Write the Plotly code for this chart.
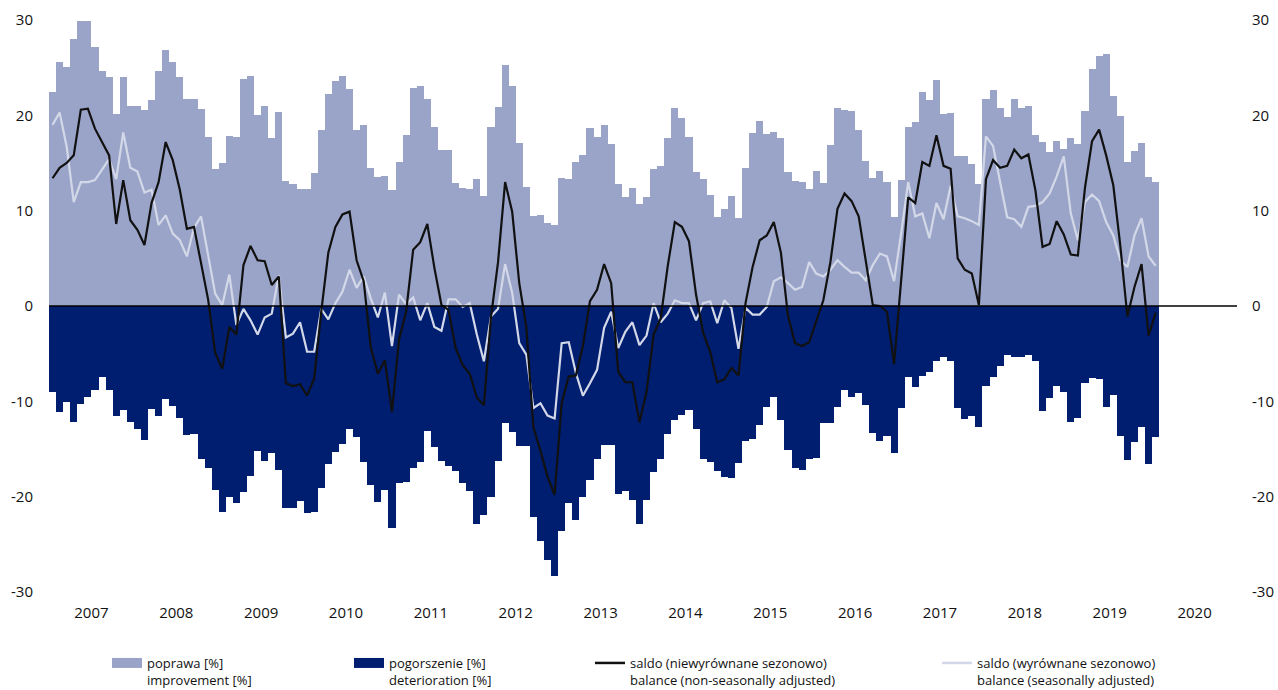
import plotly.graph_objects as go

# ---------------- data (monthly, Jan 2007 - Jan 2020) ----------------
years = [str(y) for y in range(2007, 2021)]

improvement = [
    22.4, 25.6, 25.1, 28.0, 29.9, 29.9, 27.2, 24.6, 24.0, 20.1, 24.0, 21.0,
    21.0, 20.6, 21.6, 24.7, 26.9, 25.6, 24.0, 21.7, 21.7, 20.7, 17.7, 14.4,
    15.0, 17.8, 17.7, 23.8, 24.1, 20.0, 21.0, 17.6, 20.3, 13.1, 12.8, 12.3,
    12.3, 14.0, 18.5, 22.2, 23.6, 24.1, 22.8, 18.5, 19.0, 14.5, 13.5, 13.6,
    12.2, 15.1, 17.9, 22.9, 23.1, 21.7, 18.8, 16.4, 16.4, 12.9, 12.4, 12.3,
    13.3, 11.5, 18.8, 20.9, 25.3, 23.1, 17.1, 12.5, 9.4, 9.5, 8.7, 8.5,
    13.4, 13.3, 15.1, 15.8, 18.7, 17.7, 19.0, 17.0, 12.8, 11.4, 12.4, 10.7,
    11.4, 14.4, 14.7, 17.6, 20.8, 19.7, 17.7, 14.1, 13.3, 11.6, 9.3, 10.2,
    11.5, 9.2, 14.5, 18.1, 19.4, 18.0, 18.3, 17.6, 14.1, 13.1, 13.0, 12.3,
    14.2, 12.9, 16.9, 20.8, 20.6, 20.5, 18.5, 15.2, 13.4, 14.2, 13.0, 9.3,
    13.2, 18.8, 19.3, 22.4, 21.6, 23.7, 20.1, 20.2, 15.7, 15.7, 14.9, 12.8,
    21.7, 22.7, 20.8, 19.8, 21.7, 20.8, 21.0, 17.9, 17.2, 16.2, 17.3, 16.5,
    17.6, 17.0, 20.5, 24.9, 26.2, 26.4, 22.0, 19.9, 15.1, 16.3, 17.1, 13.5,
    13.0,
]

deterioration = [
    -9.0, -11.1, -10.1, -12.2, -10.3, -9.5, -8.8, -7.4, -8.8, -11.5, -10.9, -12.2,
    -12.9, -14.1, -10.8, -11.5, -9.8, -10.5, -11.8, -13.5, -13.4, -16.0, -17.0, -19.3,
    -21.6, -20.0, -20.7, -19.5, -17.8, -15.2, -16.3, -15.4, -17.2, -21.2, -21.2, -20.5,
    -21.7, -21.6, -19.1, -16.6, -15.3, -14.5, -12.9, -13.7, -16.4, -18.8, -20.6, -19.3,
    -23.3, -18.6, -18.5, -17.0, -16.4, -13.1, -14.8, -16.3, -16.8, -17.3, -18.6, -19.4,
    -22.9, -21.9, -20.0, -16.3, -12.3, -13.2, -14.7, -14.7, -22.1, -24.7, -26.6, -28.3,
    -23.6, -20.7, -22.4, -20.0, -18.2, -16.0, -14.6, -14.6, -19.7, -19.4, -20.4, -22.9,
    -20.4, -17.4, -16.0, -13.4, -12.0, -11.4, -10.9, -12.9, -16.1, -16.4, -17.3, -17.9,
    -18.0, -16.5, -14.2, -14.0, -12.5, -10.6, -9.5, -12.0, -15.1, -17.0, -17.2, -16.1,
    -15.9, -12.3, -12.3, -10.6, -8.8, -9.5, -9.1, -10.4, -13.3, -14.2, -13.6, -15.4,
    -10.7, -7.4, -8.5, -7.3, -6.9, -5.8, -5.4, -5.8, -10.7, -11.9, -11.5, -12.7,
    -8.4, -7.4, -6.3, -5.1, -5.3, -5.3, -5.1, -5.8, -11.0, -9.7, -8.4, -9.0,
    -12.2, -11.7, -8.1, -7.6, -7.7, -10.6, -9.3, -13.6, -16.2, -14.3, -12.7, -16.6,
    -13.7,
]

balance_nsa = [
    13.4, 14.5, 15.0, 15.8, 20.6, 20.7, 18.6, 17.2, 15.8, 8.6, 13.2, 9.0,
    8.0, 6.4, 10.8, 13.0, 17.2, 15.3, 12.2, 8.1, 8.3, 4.5, 0.7, -4.9,
    -6.6, -2.2, -3.0, 4.3, 6.3, 4.8, 4.7, 2.2, 3.1, -8.1, -8.4, -8.2,
    -9.4, -7.6, -0.6, 5.6, 8.3, 9.6, 9.9, 4.8, 2.6, -4.3, -7.1, -5.7,
    -11.1, -3.5, -0.6, 5.9, 6.7, 8.6, 4.0, 0.1, -0.4, -4.4, -6.2, -7.1,
    -9.6, -10.4, -1.2, 4.6, 13.0, 9.9, 2.4, -2.2, -12.7, -15.2, -17.9, -19.8,
    -10.2, -7.4, -7.3, -4.2, 0.5, 1.7, 4.4, 2.4, -6.9, -8.0, -8.0, -12.2,
    -9.0, -3.0, -1.3, 4.2, 8.8, 8.3, 6.8, 1.2, -2.8, -4.8, -8.0, -7.7,
    -6.5, -7.3, 0.3, 4.1, 6.9, 7.4, 8.8, 5.6, -1.0, -3.9, -4.2, -3.8,
    -1.7, 0.6, 4.6, 10.2, 11.8, 11.0, 9.4, 4.8, 0.1, 0.0, -0.6, -6.1,
    2.5, 11.4, 10.8, 15.1, 14.7, 17.9, 14.7, 14.4, 5.0, 3.8, 3.4, 0.1,
    13.3, 15.3, 14.5, 14.7, 16.4, 15.5, 15.9, 12.1, 6.2, 6.5, 8.9, 7.5,
    5.4, 5.3, 12.4, 17.3, 18.5, 15.8, 12.7, 6.3, -1.1, 2.0, 4.4, -3.1,
    -0.7,
]

balance_sa = [
    19.0, 20.3, 16.7, 10.9, 13.0, 13.0, 13.2, 14.3, 15.4, 13.3, 18.2, 14.5,
    14.1, 11.9, 12.2, 8.5, 9.5, 7.6, 6.9, 5.2, 8.2, 9.4, 5.5, 1.3,
    0.1, 3.3, -2.0, -0.3, -1.5, -3.0, -1.2, -0.8, 3.2, -3.3, -2.9, -1.7,
    -4.8, -4.8, -0.3, -1.4, 0.3, 1.5, 3.8, 1.9, 3.1, 0.8, -1.2, 1.4,
    -4.2, 1.2, 0.2, 0.9, -1.5, 0.3, -2.2, -2.6, 0.7, 0.7, -0.1, 0.3,
    -3.0, -5.8, -1.1, -0.3, 4.4, 1.4, -3.9, -5.1, -10.7, -10.2, -11.5, -11.8,
    -3.9, -3.8, -7.0, -9.4, -8.1, -6.7, -2.3, -0.6, -4.4, -2.7, -1.7, -4.1,
    -3.1, 0.3, -1.7, -0.8, 0.6, 0.3, 0.3, -1.5, 0.3, 0.5, -1.8, 0.6,
    -0.2, -4.5, -0.2, -0.9, -0.9, -0.1, 2.6, 3.0, 2.4, 1.7, 2.0, 4.6,
    3.4, 3.1, 3.8, 4.8, 4.1, 3.5, 3.5, 2.7, 4.3, 5.5, 5.2, 2.6,
    7.6, 13.0, 9.4, 9.7, 7.1, 10.8, 9.1, 12.6, 9.4, 9.2, 8.9, 8.5,
    17.8, 16.8, 13.0, 9.3, 9.1, 8.3, 10.4, 10.5, 10.9, 11.8, 13.6, 15.7,
    9.7, 6.9, 10.9, 11.7, 11.0, 8.8, 7.4, 4.8, 4.1, 7.4, 9.2, 5.2,
    4.2,
]

y_ticks = [-30, -20, -10, 0, 10, 20, 30]
y_ticktext = ["-30", "-20", "-10", "0", "10", "20", "30"]

# ---------------- styling ----------------
LIGHT = "#9aa4c8"
DARK = "#001e70"
LINE_SA = "#d3d8e8"
LINE_NSA = "#111111"
FONT = "Open Sans"
TXT = "#111111"

months = list(range(len(improvement)))
n_months_axis = 12 * len(years)
year_pos = [12 * i + 5.5 for i in range(len(years))]

fig = go.Figure()

fig.add_trace(go.Bar(x=months, y=improvement, marker=dict(color=LIGHT, line=dict(width=0)),
                     showlegend=False, hoverinfo="skip"))
fig.add_trace(go.Bar(x=months, y=deterioration, marker=dict(color=DARK, line=dict(width=0)),
                     showlegend=False, hoverinfo="skip"))
fig.add_trace(go.Scatter(x=months, y=balance_sa, mode="lines", yaxis="y2",
                         line=dict(color=LINE_SA, width=2.2), showlegend=False))
fig.add_trace(go.Scatter(x=months, y=balance_nsa, mode="lines", yaxis="y2",
                         line=dict(color=LINE_NSA, width=2.2), showlegend=False))

# legend entries (one legend per entry so they can sit in fixed columns)
legend_items = [
    ("poprawa [%]<br>improvement [%]", LIGHT, 10, "legend"),
    ("pogorszenie [%]<br>deterioration [%]", DARK, 10, "legend2"),
    ("saldo (niewyrównane sezonowo)<br>balance (non-seasonally adjusted)", LINE_NSA, 2.5, "legend3"),
    ("saldo (wyrównane sezonowo)<br>balance (seasonally adjusted)", LINE_SA, 2.5, "legend4"),
]
for name, col, w, lg in legend_items:
    fig.add_trace(go.Scatter(x=[None], y=[None], mode="lines", name=name,
                             line=dict(color=col, width=w), legend=lg, showlegend=True))

PL, PR, PT, PB = 49, 41, 20, 98
W, H = 1278, 690
pw = W - PL - PR
ph = H - PT - PB

def lx(px):
    return (px - PL) / pw

leg_common = dict(orientation="h", yanchor="top", xanchor="left", valign="top",
                  bgcolor="rgba(0,0,0,0)", borderwidth=0,
                  font=dict(family=FONT, size=13, color=TXT))
ly = -(648 - (PT + ph)) / ph

axis_font = dict(family=FONT, size=15, color=TXT)

fig.update_layout(
    width=W, height=H,
    margin=dict(l=PL, r=PR, t=PT, b=PB, pad=0, autoexpand=False),
    paper_bgcolor="white", plot_bgcolor="white",
    barmode="relative", bargap=0,
    font=dict(family=FONT, size=15, color=TXT),
    xaxis=dict(range=[-0.5, n_months_axis - 0.5], tickmode="array", tickvals=year_pos,
               ticktext=years, showgrid=False, zeroline=False, showline=False,
               ticks="outside", ticklen=7, tickcolor="rgba(0,0,0,0)",
               tickfont=axis_font),
    yaxis=dict(range=[-30, 30], tickmode="array", tickvals=y_ticks, ticktext=y_ticktext,
               showgrid=False, zeroline=False, showline=False, ticks="outside", ticklen=12,
               tickcolor="rgba(0,0,0,0)", tickfont=axis_font),
    yaxis2=dict(range=[-30, 30], tickmode="array", tickvals=y_ticks, ticktext=y_ticktext,
                overlaying="y", side="right", showgrid=False, zeroline=False, showline=False,
                ticks="outside", ticklen=11, tickcolor="rgba(0,0,0,0)", tickfont=axis_font),
    legend=dict(x=lx(107), y=ly, **leg_common),
    legend2=dict(x=lx(349), y=ly, **leg_common),
    legend3=dict(x=lx(590), y=ly, **leg_common),
    legend4=dict(x=lx(937), y=ly, **leg_common),
    shapes=[dict(type="line", xref="paper", yref="y", x0=0, x1=1, y0=0, y1=0,
                 line=dict(color="black", width=1.6), layer="above")],
)

fig.write_html(
    "out.html",
    config={"displayModeBar": False},
    post_script="document.body.style.margin='0';document.body.style.overflow='hidden';",
)
